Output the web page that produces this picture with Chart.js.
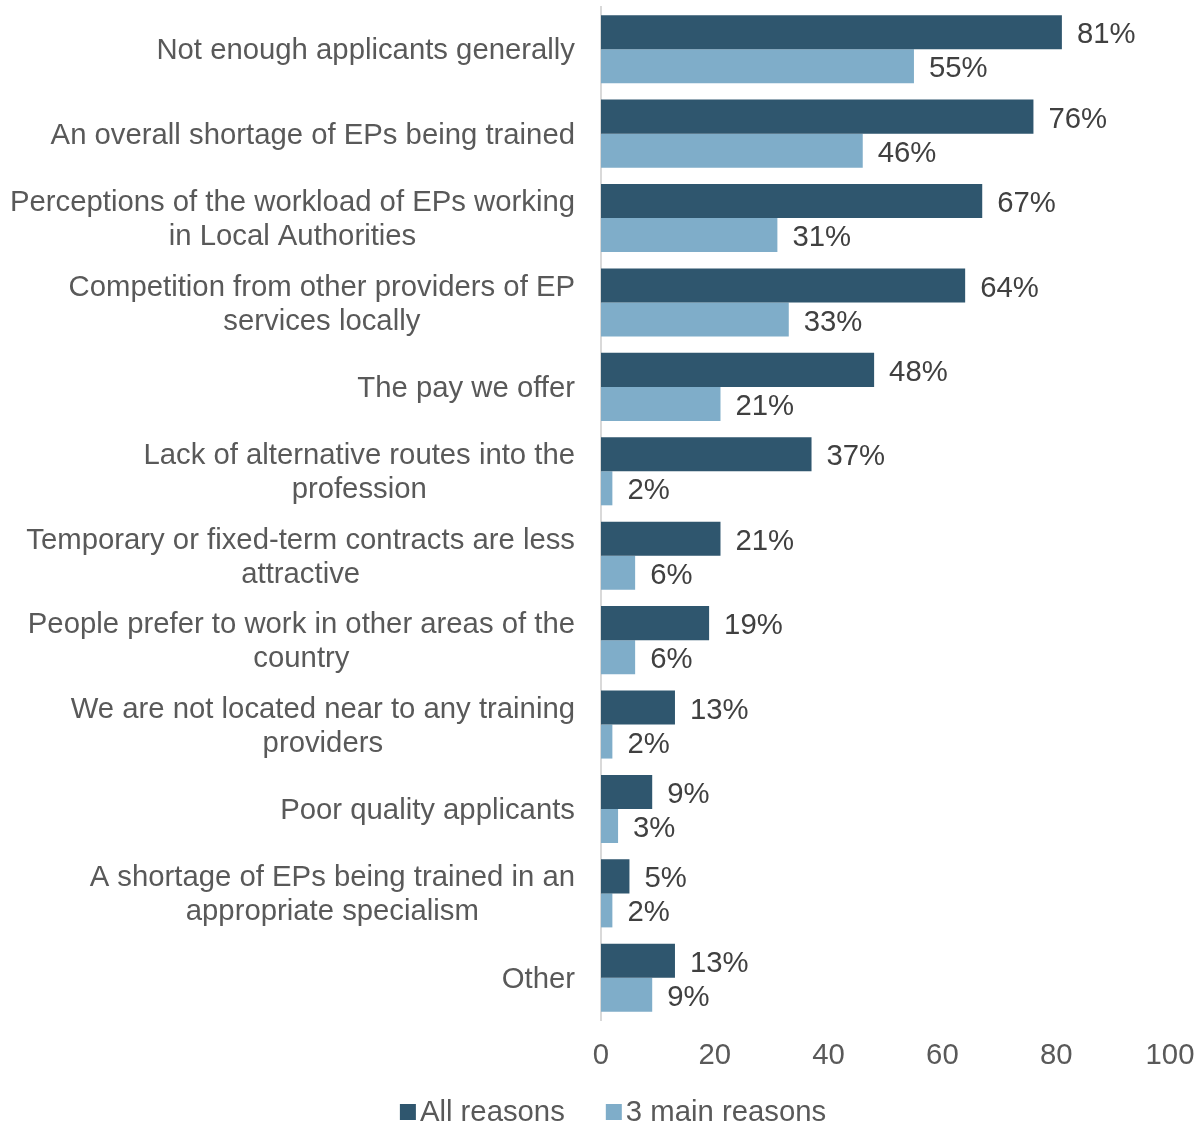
<!DOCTYPE html>
<html>
<head>
<meta charset="utf-8">
<style>
  html, body { margin: 0; padding: 0; background: #fff; }
  #wrap { width: 1203px; height: 1124px; }
</style>
<script src="https://cdn.jsdelivr.net/npm/chart.js@4/dist/chart.umd.min.js"></script>
</head>
<body>
<div id="wrap"><canvas id="c" width="1203" height="1124"></canvas></div>
<script>
// Reasons for difficulty recruiting educational psychologists (% of respondents)
const categories = [
  "Not enough applicants generally",
  "An overall shortage of EPs being trained",
  ["Perceptions of the workload of EPs working", "in Local Authorities"],
  ["Competition from other providers of EP", "services locally"],
  "The pay we offer",
  ["Lack of alternative routes into the", "profession"],
  ["Temporary or fixed-term contracts are less", "attractive"],
  ["People prefer to work in other areas of the", "country"],
  ["We are not located near to any training", "providers"],
  "Poor quality applicants",
  ["A shortage of EPs being trained in an", "appropriate specialism"],
  "Other"
];
const allReasons  = [81, 76, 67, 64, 48, 37, 21, 19, 13, 9, 5, 13];
const mainReasons = [55, 46, 31, 33, 21, 2, 6, 6, 2, 3, 2, 9];
const xTicks = [0, 20, 40, 60, 80, 100];

const FONT = "'Liberation Sans', Arial, sans-serif";
const FONT_SIZE = 29.3;

// Writes "NN%" just past the end of each bar
const valueLabels = {
  id: 'valueLabels',
  afterDatasetsDraw(chart) {
    const ctx = chart.ctx;
    ctx.save();
    ctx.font = FONT_SIZE + "px " + FONT;
    ctx.fillStyle = "#404040";
    ctx.textAlign = "left";
    ctx.textBaseline = "middle";
    chart.data.datasets.forEach((ds, i) => {
      chart.getDatasetMeta(i).data.forEach((bar, j) => {
        ctx.fillText(ds.data[j] + "%", bar.x + 15, bar.y + 3);
      });
    });
    ctx.restore();
  }
};

// Category names: block right-aligned against the axis, lines centred within the block
const categoryLabels = {
  id: 'categoryLabels',
  afterDraw(chart) {
    const ctx = chart.ctx;
    const scale = chart.scales.y;
    const right = 575, lineH = 34;
    ctx.save();
    ctx.font = FONT_SIZE + "px " + FONT;
    ctx.fillStyle = '#595959';
    ctx.textAlign = 'center';
    ctx.textBaseline = 'middle';
    categories.forEach((cat, i) => {
      const lines = Array.isArray(cat) ? cat : [cat];
      const w = Math.max(...lines.map(l => ctx.measureText(l).width));
      const cx = right - w / 2;
      const cy = scale.getPixelForTick(i) + 2;
      lines.forEach((l, k) => {
        ctx.fillText(l, cx, cy + (k - (lines.length - 1) / 2) * lineH);
      });
    });
    ctx.restore();
  }
};

// Compact legend row under the axis: square swatch followed closely by the series name
const bottomLegend = {
  id: 'bottomLegend',
  afterDraw(chart) {
    const ctx = chart.ctx;
    const box = 16, gapText = 4, gapItem = 41;
    ctx.save();
    ctx.font = FONT_SIZE + "px " + FONT;
    ctx.textBaseline = "middle";
    ctx.textAlign = "left";
    const items = chart.data.datasets.map(ds => ({
      label: ds.label, color: ds.backgroundColor,
      w: box + gapText + ctx.measureText(ds.label).width
    }));
    const total = items.reduce((s, it) => s + it.w, 0) + gapItem * (items.length - 1);
    let x = 613 - total / 2;
    const y = 1112;
    items.forEach(it => {
      ctx.fillStyle = it.color;
      ctx.fillRect(x, y - box / 2, box, box);
      ctx.fillStyle = '#595959';
      ctx.fillText(it.label, x + box + gapText, y + 1);
      x += it.w + gapItem;
    });
    ctx.restore();
  }
};

new Chart(document.getElementById('c'), {
  type: 'bar',
  data: {
    labels: categories,
    datasets: [
      { label: 'All reasons', data: allReasons, backgroundColor: '#2F566E',
        categoryPercentage: 0.806, barPercentage: 1.0 },
      { label: '3 main reasons', data: mainReasons, backgroundColor: '#7FADC9',
        categoryPercentage: 0.806, barPercentage: 1.0 }
    ]
  },
  options: {
    indexAxis: 'y',
    responsive: false,
    animation: false,
    layout: { padding: { top: 7, right: 33, left: 0, bottom: 0 } },
    scales: {
      x: {
        min: 0, max: 100,
        afterBuildTicks(scale) { scale.ticks = xTicks.map(v => ({ value: v })); },
        grid: { display: false, drawTicks: false },
        border: { display: false },
        ticks: { color: '#595959', font: { family: FONT, size: FONT_SIZE }, padding: 18, maxRotation: 0 },
        afterFit(scale) {
          scale.height = 104;
          scale.paddingLeft = 0; scale.paddingRight = 0;
        }
      },
      y: {
        grid: { display: false, drawTicks: false },
        border: { display: true, color: '#d9d9d9', width: 2 },
        ticks: { display: false, autoSkip: false },
        afterFit(scale) {
          scale.width = 601;
          scale.paddingTop = 0; scale.paddingBottom = 0;
        }
      }
    },
    plugins: {
      legend: { display: false },
      tooltip: { enabled: false }
    }
  },
  plugins: [valueLabels, categoryLabels, bottomLegend]
});
</script>
</body>
</html>
